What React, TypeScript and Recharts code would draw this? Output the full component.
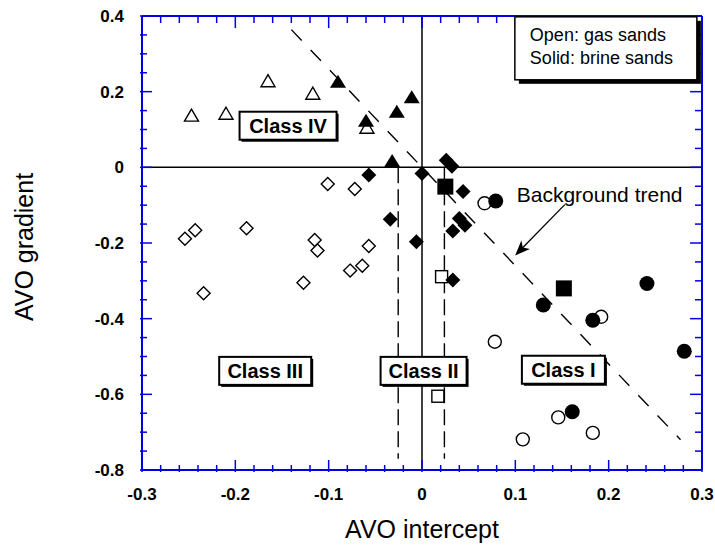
import {
  ReferenceDot,
  ReferenceLine,
  Scatter,
  ScatterChart,
  XAxis,
  YAxis,
} from "recharts";

const FONT = '"Liberation Sans", Arial, Helvetica, sans-serif';
const BLUE = "#0000e6";

// tick labels
const xMajor = [-0.3, -0.2, -0.1, 0, 0.1, 0.2, 0.3];
const yMajor = [0.4, 0.2, 0, -0.2, -0.4, -0.6, -0.8];
// minor tick marks every 0.02 (x) and 0.05 (y)
const xTicks = Array.from({ length: 31 }, (_, i) => +(-0.3 + i * 0.02).toFixed(2));
const yTicks = Array.from({ length: 25 }, (_, i) => +(-0.8 + i * 0.05).toFixed(2));

// open symbols = gas sands, solid = brine sands
const gasTriangles = [
  { x: -0.247, y: 0.138 },
  { x: -0.21, y: 0.143 },
  { x: -0.165, y: 0.229 },
  { x: -0.117, y: 0.196 },
  { x: -0.059, y: 0.106 },
];
const brineTriangles = [
  { x: -0.09, y: 0.226 },
  { x: -0.06, y: 0.123 },
  { x: -0.027, y: 0.147 },
  { x: -0.011, y: 0.185 },
  { x: -0.032, y: 0.017 },
];
const gasDiamonds = [
  { x: -0.254, y: -0.189 },
  { x: -0.243, y: -0.166 },
  { x: -0.188, y: -0.161 },
  { x: -0.234, y: -0.333 },
  { x: -0.127, y: -0.305 },
  { x: -0.115, y: -0.192 },
  { x: -0.112, y: -0.22 },
  { x: -0.077, y: -0.273 },
  { x: -0.064, y: -0.26 },
  { x: -0.057, y: -0.208 },
  { x: -0.101, y: -0.044 },
  { x: -0.072, y: -0.057 },
];
const brineDiamonds = [
  { x: -0.057, y: -0.02 },
  { x: 0.0, y: -0.016 },
  { x: -0.034, y: -0.137 },
  { x: -0.006, y: -0.197 },
  { x: 0.026, y: 0.019 },
  { x: 0.032, y: 0.003 },
  { x: 0.044, y: -0.064 },
  { x: 0.04, y: -0.135 },
  { x: 0.046, y: -0.153 },
  { x: 0.033, y: -0.168 },
  { x: 0.033, y: -0.298 },
];
const gasSquares = [
  { x: 0.021, y: -0.289 },
  { x: 0.017, y: -0.605 },
];
const brineSquares = [
  { x: 0.025, y: -0.051 },
  { x: 0.152, y: -0.32 },
];
const gasCircles = [
  { x: 0.067, y: -0.095 },
  { x: 0.192, y: -0.395 },
  { x: 0.078, y: -0.461 },
  { x: 0.146, y: -0.661 },
  { x: 0.183, y: -0.702 },
  { x: 0.108, y: -0.719 },
];
const brineCircles = [
  { x: 0.079, y: -0.089 },
  { x: 0.13, y: -0.364 },
  { x: 0.241, y: -0.307 },
  { x: 0.183, y: -0.404 },
  { x: 0.281, y: -0.486 },
  { x: 0.161, y: -0.646 },
];

// background trend and class II bounds
const trendStart = { x: -0.14, y: 0.364 };
const trendEnd = { x: 0.277, y: -0.72 };
const class2Bounds = [-0.0255, 0.024];
const class2Bottom = -0.77;

const classNames = ["Class IV", "Class III", "Class II", "Class I"];
const classX = [-0.1435, -0.168, 0.0017, 0.1515];
const classY = [0.11, -0.538, -0.538, -0.535];
const classW = [97, 92, 86, 83];

// tick lengths for the top/right frame, in data units (about 12px / 7px)
const xTickLen = { major: 0.0128, minor: 0.0075 };
const yTickLen = { major: 0.032, minor: 0.0185 };

const isMajor = (v: number, list: number[]) =>
  list.some((m) => Math.abs(m - v) < 1e-6);

const makeTick = (side: "bottom" | "left") => (props: any) => {
  const { x, y, payload } = props;
  const v = payload.value;
  const major = isMajor(v, side === "bottom" ? xMajor : yMajor);
  const len = major ? 12 : 7;
  const x2 = side === "left" ? x + len : x;
  const y2 = side === "bottom" ? y - len : y;
  const txt = String(v);
  return (
    <g>
      <line x1={x} y1={y} x2={x2} y2={y2} stroke={BLUE} strokeWidth={1.5} />
      {major && side === "bottom" && (
        <text
          x={x}
          y={y + 28}
          textAnchor="middle"
          fontFamily={FONT}
          fontWeight="bold"
          fontSize={17}
          fill="#000"
        >
          {txt}
        </text>
      )}
      {major && side === "left" && (
        <text
          x={x - 16}
          y={y + 6}
          textAnchor="end"
          fontFamily={FONT}
          fontWeight="bold"
          fontSize={17}
          fill="#000"
        >
          {txt}
        </text>
      )}
    </g>
  );
};

const openTri = (p: any) => (
  <polygon
    points={`${p.cx},${p.cy - 6} ${p.cx + 7},${p.cy + 6} ${p.cx - 7},${p.cy + 6}`}
    fill="#fff"
    stroke="#000"
    strokeWidth={1.4}
  />
);
const solidTri = (p: any) => (
  <polygon
    points={`${p.cx},${p.cy - 7} ${p.cx + 8},${p.cy + 6} ${p.cx - 8},${p.cy + 6}`}
    fill="#000"
  />
);
const openDia = (p: any) => (
  <polygon
    points={`${p.cx},${p.cy - 6.5} ${p.cx + 6.5},${p.cy} ${p.cx},${p.cy + 6.5} ${p.cx - 6.5},${p.cy}`}
    fill="#fff"
    stroke="#000"
    strokeWidth={1.4}
  />
);
const solidDia = (p: any) => (
  <polygon
    points={`${p.cx},${p.cy - 7.5} ${p.cx + 7.5},${p.cy} ${p.cx},${p.cy + 7.5} ${p.cx - 7.5},${p.cy}`}
    fill="#000"
  />
);
const openSq = (p: any) => (
  <rect x={p.cx - 6} y={p.cy - 6} width={12} height={12} fill="#fff" stroke="#000" strokeWidth={1.4} />
);
const solidSq = (p: any) => (
  <rect x={p.cx - 8} y={p.cy - 8} width={16} height={16} fill="#000" />
);
const openCirc = (p: any) => (
  <circle cx={p.cx} cy={p.cy} r={6.5} fill="#fff" stroke="#000" strokeWidth={1.4} />
);
const solidCirc = (p: any) => <circle cx={p.cx} cy={p.cy} r={7.5} fill="#000" />;

const classBox = (text: string, w: number) => (p: any) => {
  const h = 28;
  return (
    <g>
      <rect x={p.cx - w / 2 + 2} y={p.cy - h / 2 + 2} width={w} height={h} fill="#000" />
      <rect
        x={p.cx - w / 2}
        y={p.cy - h / 2}
        width={w}
        height={h}
        fill="#fff"
        stroke="#000"
        strokeWidth={2}
      />
      <text
        x={p.cx}
        y={p.cy + 7}
        textAnchor="middle"
        fontFamily={FONT}
        fontWeight="bold"
        fontSize={20}
        fill="#000"
      >
        {text}
      </text>
    </g>
  );
};

const legendBox = (p: any) => {
  const w = 182;
  const h = 63;
  const left = p.cx - w / 2;
  const top = p.cy - h / 2;
  return (
    <g>
      <rect x={left + 4} y={top + 4} width={w} height={h} fill="#000" />
      <rect x={left} y={top} width={w} height={h} fill="#fff" stroke="#000" strokeWidth={1.5} />
      <text x={left + 15} y={top + 24} fontFamily={FONT} fontSize={18} fill="#000">
        Open: gas sands
      </text>
      <text x={left + 15} y={top + 47} fontFamily={FONT} fontSize={18} fill="#000">
        Solid: brine sands
      </text>
    </g>
  );
};

const trendText = (p: any) => (
  <text x={p.cx} y={p.cy} fontFamily={FONT} fontSize={21} fill="#000">
    Background trend
  </text>
);

const arrowShape = (p: any) => {
  const { x1, y1, x2, y2 } = p;
  const dx = x2 - x1;
  const dy = y2 - y1;
  const l = Math.sqrt(dx * dx + dy * dy) || 1;
  const ux = dx / l;
  const uy = dy / l;
  const nx = -uy;
  const ny = ux;
  const pts = [
    [x2, y2],
    [x2 - ux * 15 + nx * 6, y2 - uy * 15 + ny * 6],
    [x2 - ux * 11, y2 - uy * 11],
    [x2 - ux * 15 - nx * 6, y2 - uy * 15 - ny * 6],
  ]
    .map((q) => q.join(","))
    .join(" ");
  return (
    <g>
      <line x1={x1} y1={y1} x2={x2 - ux * 10} y2={y2 - uy * 10} stroke="#000" strokeWidth={1.3} />
      <polygon points={pts} fill="#000" />
    </g>
  );
};

const xLabel = (p: any) => {
  const vb = p.viewBox;
  return (
    <text
      x={vb.x + vb.width / 2}
      y={vb.y + 68}
      textAnchor="middle"
      fontFamily={FONT}
      fontSize={25}
      fill="#000"
    >
      AVO intercept
    </text>
  );
};

const yLabel = (p: any) => {
  const vb = p.viewBox;
  const cy = vb.y + vb.height / 2 + 4;
  return (
    <text
      x={33}
      y={cy}
      transform={`rotate(-90, 33, ${cy})`}
      textAnchor="middle"
      fontFamily={FONT}
      fontSize={25}
      fill="#000"
    >
      AVO gradient
    </text>
  );
};

export default function App() {
  return (
    <div style={{ position: "absolute", left: 0, top: 0, background: "#fff" }}>
      <ScatterChart
        width={715}
        height={548}
        margin={{ top: 16, right: 13, bottom: 0, left: 0 }}
      >
        <XAxis
          type="number"
          dataKey="x"
          domain={[-0.3, 0.3]}
          ticks={xTicks}
          interval={0}
          allowDataOverflow
          height={78}
          tickSize={0}
          tickLine={false}
          axisLine={{ stroke: BLUE, strokeWidth: 2 }}
          tick={makeTick("bottom")}
          label={xLabel}
        />
        <YAxis
          type="number"
          dataKey="y"
          domain={[-0.8, 0.4]}
          ticks={yTicks}
          interval={0}
          allowDataOverflow
          width={142}
          tickSize={0}
          tickLine={false}
          axisLine={{ stroke: BLUE, strokeWidth: 2 }}
          tick={makeTick("left")}
          label={yLabel}
        />

        <ReferenceLine x={0} stroke="#000" strokeWidth={1.5} />
        <ReferenceLine y={0} stroke="#000" strokeWidth={1.5} />

        {classNames.map((name, i) => (
          <ReferenceDot
            key={name}
            x={classX[i]}
            y={classY[i]}
            r={1}
            shape={classBox(name, classW[i])}
          />
        ))}

        <ReferenceLine
          segment={[trendStart, trendEnd]}
          stroke="#000"
          strokeWidth={1.4}
          strokeDasharray="15 13"
        />
        {class2Bounds.map((bx) => (
          <ReferenceLine
            key={bx}
            segment={[
              { x: bx, y: 0 },
              { x: bx, y: class2Bottom },
            ]}
            stroke="#000"
            strokeWidth={1.4}
            strokeDasharray="16 6"
          />
        ))}
        <ReferenceLine
          segment={[
            { x: 0.153, y: -0.0985 },
            { x: 0.0998, y: -0.233 },
          ]}
          shape={arrowShape}
        />
        <ReferenceDot x={0.1015} y={-0.091} r={1} shape={trendText} />

        <Scatter data={gasTriangles} shape={openTri} isAnimationActive={false} />
        <Scatter data={gasDiamonds} shape={openDia} isAnimationActive={false} />
        <Scatter data={gasSquares} shape={openSq} isAnimationActive={false} />
        <Scatter data={gasCircles} shape={openCirc} isAnimationActive={false} />
        <Scatter data={brineTriangles} shape={solidTri} isAnimationActive={false} />
        <Scatter data={brineDiamonds} shape={solidDia} isAnimationActive={false} />
        <Scatter data={brineSquares} shape={solidSq} isAnimationActive={false} />
        <Scatter data={brineCircles} shape={solidCirc} isAnimationActive={false} />

        <ReferenceDot x={0.197} y={0.3146} r={1} shape={legendBox} ifOverflow="visible" />

        {/* top and right frame with inward ticks */}
        <ReferenceLine y={0.4} stroke={BLUE} strokeWidth={2} />
        <ReferenceLine x={0.3} stroke={BLUE} strokeWidth={2} />
        {xTicks.map((t) => {
          const len = isMajor(t, xMajor) ? yTickLen.major : yTickLen.minor;
          return (
            <ReferenceLine
              key={`tx${t}`}
              segment={[
                { x: t, y: 0.4 },
                { x: t, y: 0.4 - len },
              ]}
              stroke={BLUE}
              strokeWidth={1.5}
            />
          );
        })}
        {yTicks.map((t) => {
          const len = isMajor(t, yMajor) ? xTickLen.major : xTickLen.minor;
          return (
            <ReferenceLine
              key={`ty${t}`}
              segment={[
                { x: 0.3, y: t },
                { x: 0.3 - len, y: t },
              ]}
              stroke={BLUE}
              strokeWidth={1.5}
            />
          );
        })}
      </ScatterChart>
    </div>
  );
}
